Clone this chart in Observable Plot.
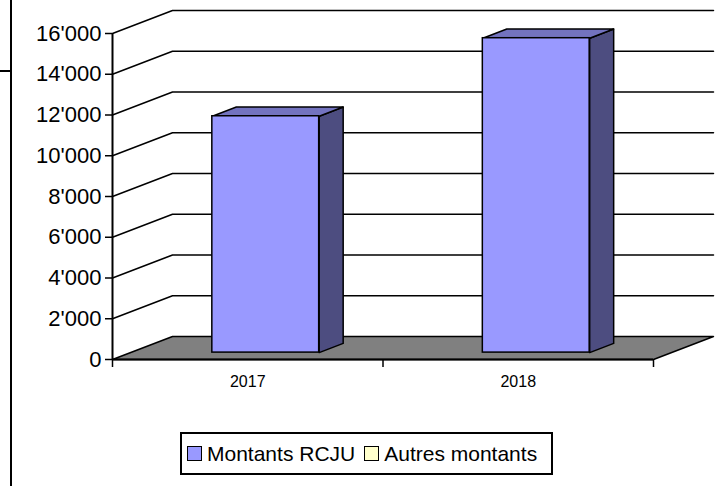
<!DOCTYPE html>
<html><head><meta charset="utf-8">
<script src="https://cdn.jsdelivr.net/npm/d3@7"></script>
<script src="https://cdn.jsdelivr.net/npm/@observablehq/plot@0.6"></script>
<style>
body{margin:0;background:#fff;font-family:Arial,"Liberation Sans",sans-serif;}
#wrap{position:relative;width:723px;height:486px;overflow:hidden;background:#fff;}
#chart{position:absolute;left:0;top:0;}
.vline{position:absolute;left:10px;top:0;width:2px;height:486px;background:#000;}
.hline{position:absolute;left:0;top:70px;width:11px;height:2px;background:#000;}
#legend{position:absolute;left:180px;top:432px;width:373px;height:43px;box-sizing:border-box;border:2px solid #000;display:flex;align-items:center;padding-left:5px;font-size:21px;color:#000;white-space:nowrap;font-family:Arial,"Liberation Sans",sans-serif;}
#legend .sw{display:inline-block;width:15px;height:15px;border:1.5px solid #000;box-sizing:border-box;margin-right:5px;}
#legend .it{display:flex;align-items:center;margin-right:9px;}
</style></head><body>
<div id="wrap"><div id="chart"></div>
<div class="vline"></div><div class="hline"></div>
<div id="legend"></div></div>
<script>
const categories = ["2017", "2018"];
const montantsRCJU = [11600, 15430];
const autresMontants = [0, 0];
const seriesNames = ["Montants RCJU", "Autres montants"];
const seriesColors = ["#9999FF", "#FFFFCC"];
const yTicks = [0, 2000, 4000, 6000, 8000, 10000, 12000, 14000, 16000];

const series = [
  {name: seriesNames[0], color: seriesColors[0], values: montantsRCJU},
  {name: seriesNames[1], color: seriesColors[1], values: autresMontants}
];

// oblique projection of depth (0 = front, 1 = back wall) in data units
const DX = 60 / 270.5;
const DY = 23 * 16000 / 326;
const proj = (x, y, d) => ({x: x + d * DX, y: y + d * DY});
const BAR_W = 0.395, D0 = 0.3, D1 = 0.7;
const N = categories.length;

// back wall + left wall gridlines
const grid = [];
yTicks.filter(v => v > 0).forEach(v => {
  grid.push({g: v, ...proj(0, v, 0)});
  grid.push({g: v, ...proj(0, v, 1)});
  grid.push({g: v, ...proj(N, v, 1)});
});
// floor
const floor = [proj(0,0,0), proj(N,0,0), proj(N,0,1), proj(0,0,1), proj(0,0,0)];

// stacked segments
const segs = [];
categories.forEach((c, i) => {
  let base = 0;
  series.forEach((s, k) => {
    const v = s.values[i];
    if (v > 0) segs.push({i, k, y0: base, y1: base + v, color: s.color});
    base += v;
  });
});
const shade = (c, f) => { const r = d3.rgb(c); return d3.rgb(r.r*f, r.g*f, r.b*f).formatHex(); };
const sides = [], tops = [];
segs.forEach((s, j) => {
  const xl = s.i + 0.5 - BAR_W/2, xr = s.i + 0.5 + BAR_W/2;
  [proj(xr,s.y0,D0), proj(xr,s.y1,D0), proj(xr,s.y1,D1), proj(xr,s.y0,D1), proj(xr,s.y0,D0)]
    .forEach(p => sides.push({z: j, color: shade(s.color, 0.5), ...p}));
  [proj(xl,s.y1,D0), proj(xr,s.y1,D0), proj(xr,s.y1,D1), proj(xl,s.y1,D1), proj(xl,s.y1,D0)]
    .forEach(p => tops.push({z: j, color: shade(s.color, 0.75), ...p}));
});

const fmt = d => d3.format(",")(d).replace(/,/g, "'");

const chart = Plot.plot({
  width: 723, height: 400,
  marginLeft: 112, marginRight: 70, marginTop: 33, marginBottom: 41,
  x: {domain: [0, N], label: null},
  y: {domain: [0, 16000], label: null},
  color: {type: "identity"},
  style: {fontFamily: "Arial, 'Liberation Sans', sans-serif", color: "#000", background: "#fff", overflow: "visible"},
  marks: [
    Plot.line(grid, {x: "x", y: "y", z: "g", stroke: "#000", strokeWidth: 1.5}),
    Plot.line(floor, {x: "x", y: "y", fill: "#808080", stroke: "#000", strokeWidth: 1.5}),
    Plot.ruleX([0], {y1: 0, y2: 16000, stroke: "#000", strokeWidth: 2}),
    Plot.ruleY([0], {x1: 0, x2: N, stroke: "#000", strokeWidth: 2}),
    Plot.line(sides, {x: "x", y: "y", z: "z", fill: "color", stroke: "#000", strokeWidth: 1.5, strokeLinejoin: "round"}),
    Plot.line(tops, {x: "x", y: "y", z: "z", fill: "color", stroke: "#000", strokeWidth: 1.5, strokeLinejoin: "round"}),
    Plot.rect(segs, {
      x1: d => d.i + 0.5 - BAR_W/2 + D0*DX, x2: d => d.i + 0.5 + BAR_W/2 + D0*DX,
      y1: d => d.y0 + D0*DY, y2: d => d.y1 + D0*DY,
      fill: "color", stroke: "#000", strokeWidth: 1.5
    }),
    Plot.axisY({ticks: yTicks, tickFormat: () => "", tickSize: 7, label: null, strokeWidth: 1.5}),
    Plot.text(yTicks, {x: () => 0, y: d => d, text: fmt, textAnchor: "end", dx: -11, fontSize: 22, fill: "#000"}),
    Plot.axisX({ticks: d3.range(N + 1), tickFormat: () => "", tickSize: 8, label: null, strokeWidth: 1.5}),
    Plot.text(categories, {x: (d, i) => i + 0.5, y: () => 0, dy: 22, text: d => d, fontSize: 16, fill: "#000"})
  ]
});
document.getElementById("chart").appendChild(chart);

const lg = document.getElementById("legend");
series.forEach(s => {
  const it = document.createElement("span"); it.className = "it";
  const sw = document.createElement("span"); sw.className = "sw"; sw.style.background = s.color;
  it.appendChild(sw); it.appendChild(document.createTextNode(s.name));
  lg.appendChild(it);
});
</script></body></html>
